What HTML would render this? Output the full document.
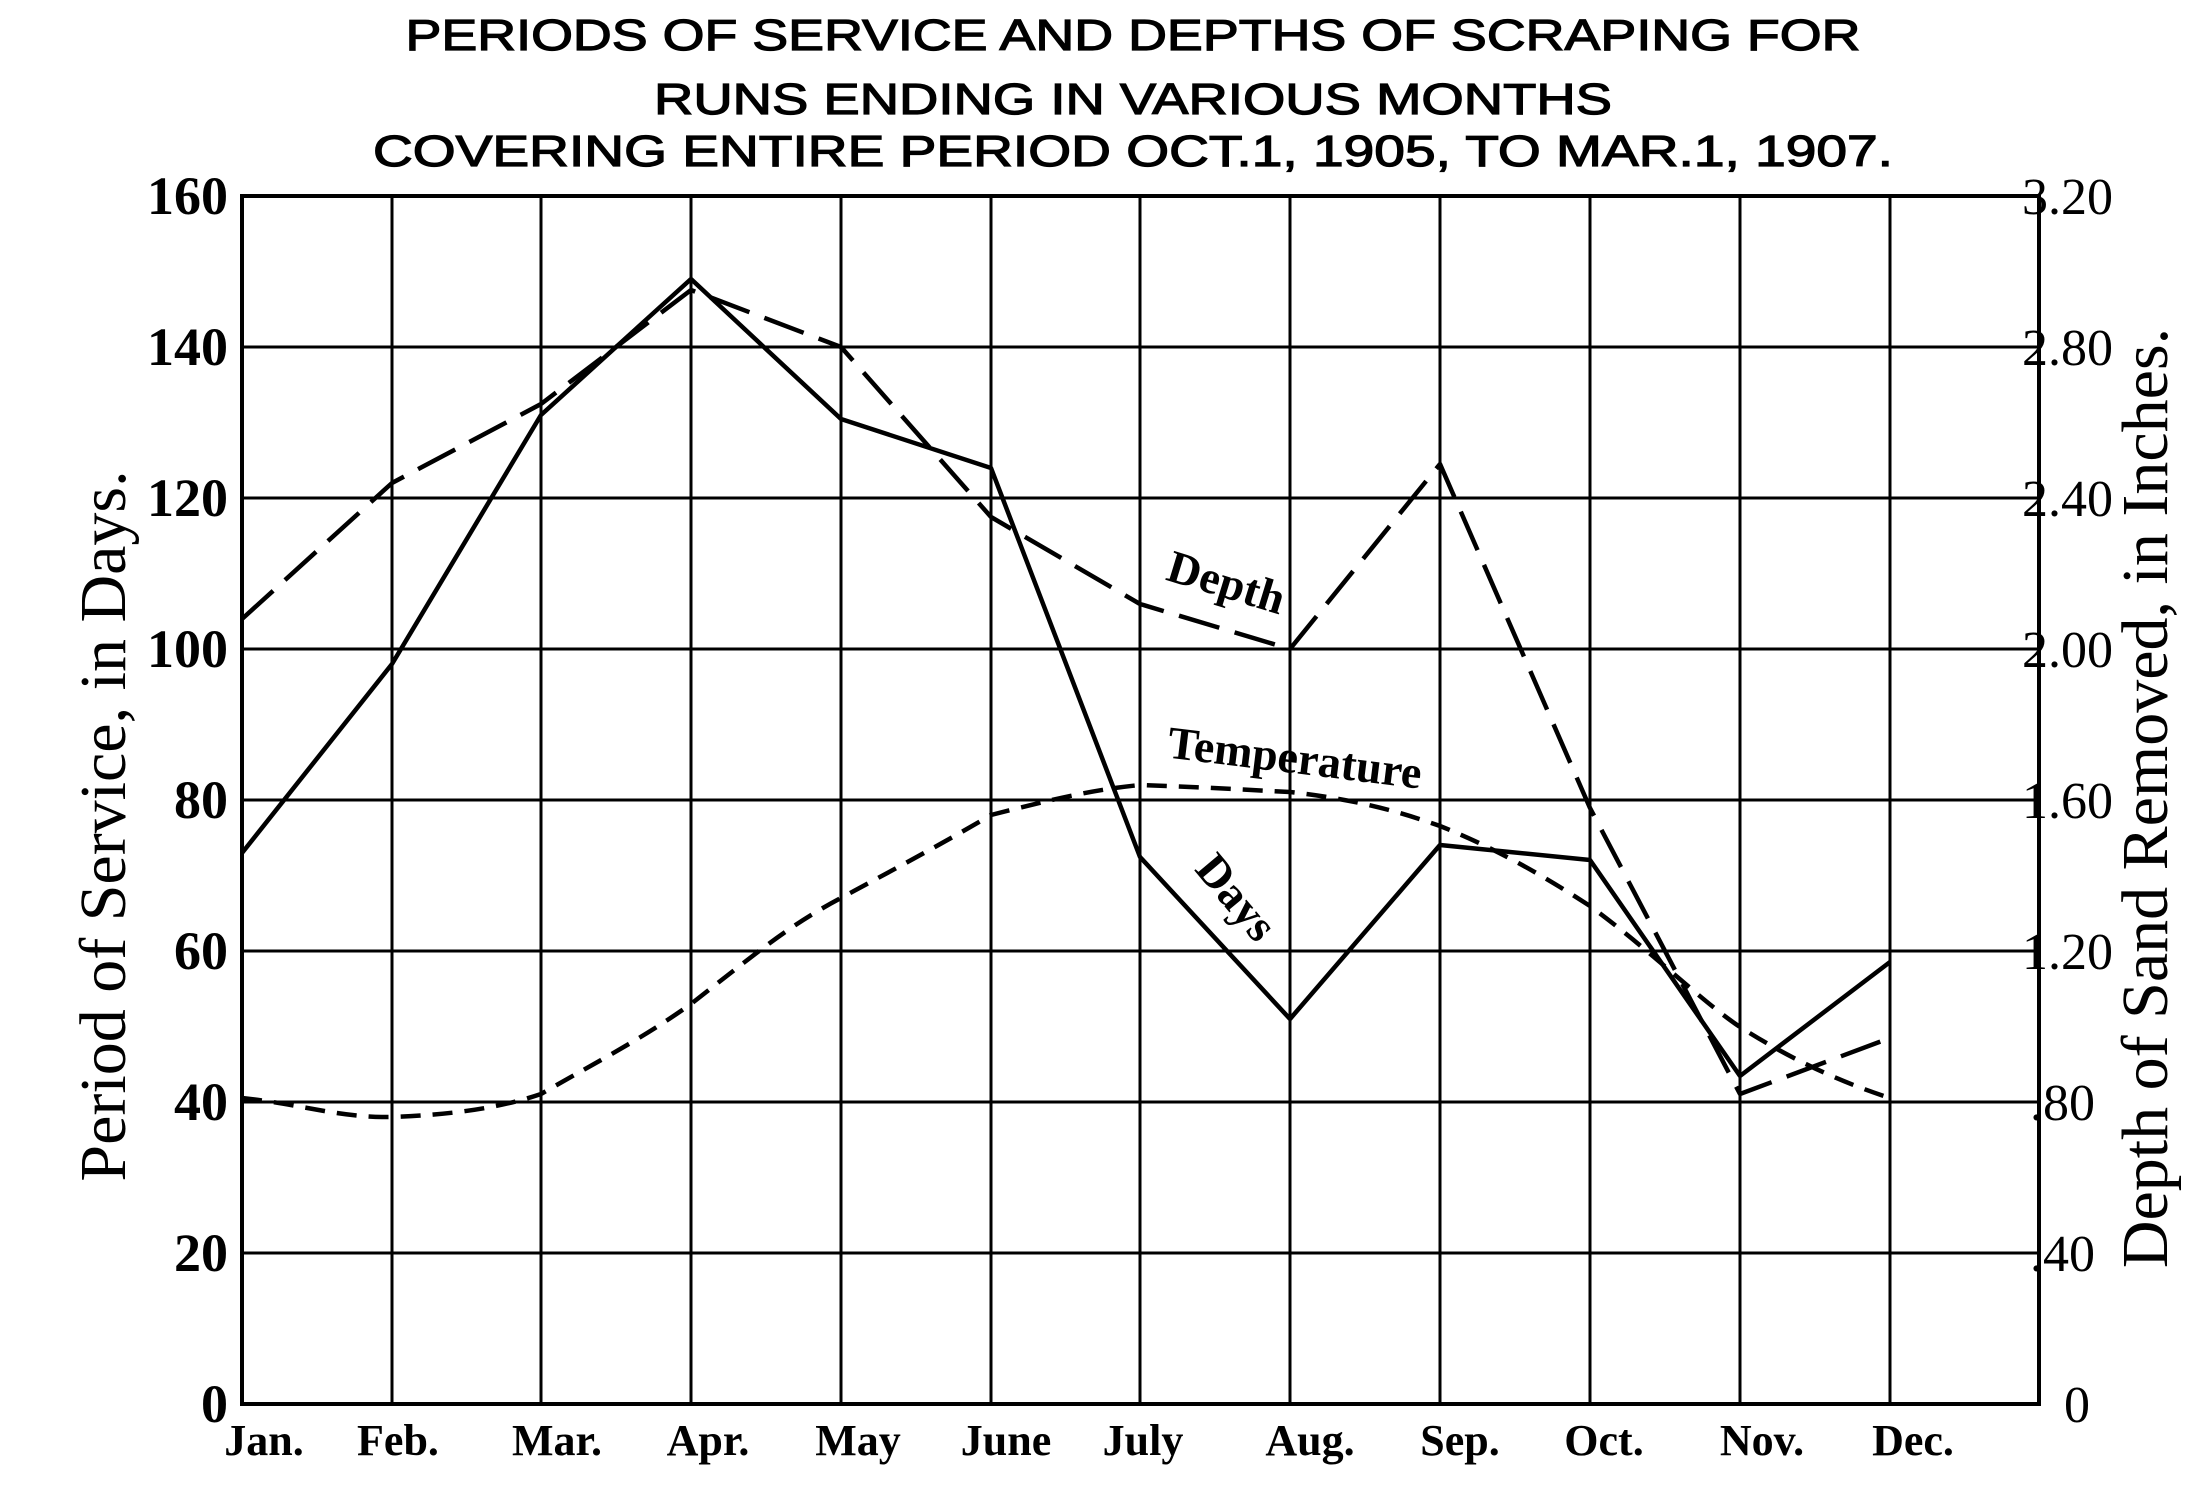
<!DOCTYPE html>
<html><head><style>body{margin:0;background:#fff}svg{display:block}</style></head><body>
<svg width="2211" height="1487" viewBox="0 0 2211 1487" xmlns="http://www.w3.org/2000/svg">
<rect width="2211" height="1487" fill="#fff"/>
<g font-family="Liberation Sans, sans-serif" font-size="44" text-anchor="middle" fill="#000" stroke="#000" stroke-width="1.2">
<text x="1133" y="50" textLength="1455" lengthAdjust="spacingAndGlyphs">PERIODS OF SERVICE AND DEPTHS OF SCRAPING FOR</text>
<text x="1133" y="114" textLength="958" lengthAdjust="spacingAndGlyphs">RUNS ENDING IN VARIOUS MONTHS</text>
<text x="1133" y="166" textLength="1520" lengthAdjust="spacingAndGlyphs">COVERING ENTIRE PERIOD  OCT.1, 1905, TO MAR.1, 1907.</text>
</g>
<g stroke="#000" stroke-width="3" fill="none">
<path d="M392 196V1404M541 196V1404M691 196V1404M841 196V1404M991 196V1404M1140 196V1404M1290 196V1404M1440 196V1404M1590 196V1404M1740 196V1404M1890 196V1404"/>
<path d="M242 347H2039M242 498H2039M242 649H2039M242 800H2039M242 951H2039M242 1102H2039M242 1253H2039"/>
<rect x="242" y="196" width="1797" height="1208" stroke-width="4"/>
</g>
<g font-family="Liberation Serif, serif" font-weight="bold" font-size="54" text-anchor="end">
<text x="228" y="214">160</text><text x="228" y="365">140</text><text x="228" y="516">120</text><text x="228" y="667">100</text><text x="228" y="818">80</text><text x="228" y="969">60</text><text x="228" y="1120">40</text><text x="228" y="1271">20</text><text x="228" y="1422">0</text>
</g>
<g font-family="Liberation Serif, serif" font-size="52" text-anchor="start">
<text x="2022" y="214">3.20</text><text x="2022" y="365">2.80</text><text x="2022" y="516">2.40</text><text x="2022" y="667">2.00</text><text x="2022" y="818">1.60</text><text x="2022" y="969">1.20</text><text x="2030" y="1120">.80</text><text x="2030" y="1271">.40</text><text x="2064" y="1422">0</text>
</g>
<g font-family="Liberation Serif, serif" font-weight="bold" font-size="44" text-anchor="middle">
<text x="264" y="1455">Jan.</text><text x="398" y="1455">Feb.</text><text x="557" y="1455">Mar.</text><text x="708" y="1455">Apr.</text><text x="858" y="1455">May</text><text x="1006" y="1455">June</text><text x="1143" y="1455">July</text><text x="1310" y="1455">Aug.</text><text x="1460" y="1455">Sep.</text><text x="1604" y="1455">Oct.</text><text x="1762" y="1455">Nov.</text><text x="1913" y="1455">Dec.</text>
</g>
<text transform="translate(125,826) rotate(-90)" font-family="Liberation Serif, serif" font-size="66" text-anchor="middle">Period of Service, in Days.</text>
<text transform="translate(2167,798) rotate(-90)" font-family="Liberation Serif, serif" font-size="66" text-anchor="middle">Depth of Sand Removed, in Inches.</text>
<g fill="none" stroke="#000" stroke-width="4.5" stroke-linejoin="round">
<polyline points="242,853 392,664 541,415 691,279 841,419 991,468 1140,857 1290,1019 1440,845 1590,860 1740,1076 1890,962"/>
<polyline stroke-dasharray="42,16" points="242,619 392,483 541,404 691,290 841,347 991,517 1140,604 1290,649 1440,464 1590,808 1740,1094 1890,1038"/>
<path stroke-dasharray="20,12" d="M242,1098 C300,1104 340,1118 392,1117 C450,1115 500,1108 541,1094 C600,1060 640,1040 691,1004 C760,950 790,925 841,898 C900,866 940,845 991,815 C1050,800 1090,790 1140,785 C1200,787 1250,790 1290,792 C1360,800 1400,812 1440,826 C1500,850 1550,880 1590,906 C1650,950 1700,1000 1740,1027 C1800,1065 1850,1085 1890,1098"/>
</g>
<g font-family="Liberation Serif, serif" font-weight="bold" font-size="46" text-anchor="middle">
<text transform="translate(1222,597) rotate(17)">Depth</text>
<text transform="translate(1293,773) rotate(7)">Temperature</text>
<text transform="translate(1225,907) rotate(50)">Days</text>
</g>
</svg>
</body></html>
